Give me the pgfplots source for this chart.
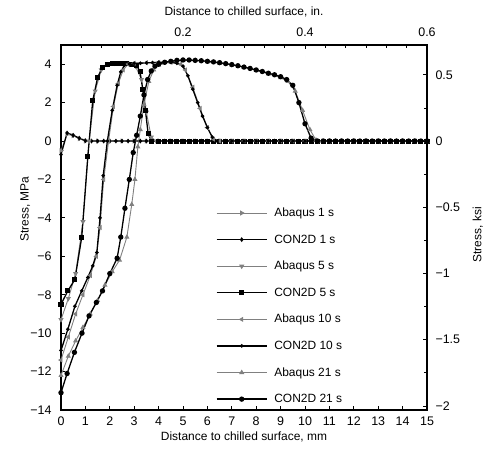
\documentclass[border=0pt]{standalone}
\usepackage{fontspec}
\setmainfont{Liberation Sans}
\usepackage{pgfplots}
\pgfplotsset{compat=1.18}

\definecolor{abq}{gray}{0.5}

\pgfplotsset{
  every axis/.append style={
    scale only axis, width=366bp, height=365bp,
    tick align=inside, major tick length=4bp, minor tick length=3bp,
    tick style={black, line width=0.8pt},
    axis line style={line width=1.2pt},
    tick label style={font=\fontsize{12.5}{14}\selectfont},
    label style={font=\fontsize{12}{14}\selectfont},
    /pgf/number format/assume math mode=true,
  },
  abaqus/.style={color=abq, line width=0.9pt, mark=triangle*, mark size=2.1pt,
    mark options={solid, fill=abq, rotate=#1}},
  con/.style={color=black, line width=1.3pt},
}

\begin{document}
\begin{tikzpicture}
\begin{axis}[
  name=mainax,
  xmin=0, xmax=15, ymin=-14, ymax=5,
  xtick={0,...,15}, xtick pos=bottom,
  ytick={-14,-12,...,4}, ytick pos=left,
  yticklabels={−14,−12,−10,−8,−6,−4,−2,0,2,4},
  xticklabel style={yshift=-3bp},
  yticklabel style={xshift=-6bp},
  xlabel={Distance to chilled surface, mm},
  ylabel={Stress, MPa},
  xlabel style={at={(axis description cs:0.5,-0.075)}, anchor=center},
  ylabel style={at={(axis description cs:-0.098,0.55)}, anchor=center},
  legend cell align=left,
  legend style={draw=none, fill=none, at={(rel axis cs:0.415,0.565)}, anchor=north west,
    font=\fontsize{12}{14}\selectfont, row sep=12.6bp, column sep=5bp},
  legend image code/.code={\draw[mark repeat=2, mark phase=2, #1]
    plot coordinates {(0bp,0bp) (25bp,0bp) (50bp,0bp)};},
]
% 1 s
\addplot[abaqus=-90] coordinates {(0,-0.5) (0.25,0.35) (0.5,0.28) (0.75,0.12) (1,0) (1.5,0) (2,0) (2.5,0) (3,0) (3.5,0) (4,0) (4.5,0) (5,0) (5.5,0) (6,0) (6.5,0) (7,0) (7.5,0) (8,0) (8.5,0) (9,0) (9.5,0) (10,0) (10.5,0) (11,0) (11.5,0) (12,0) (12.5,0) (13,0) (13.5,0) (14,0) (14.5,0) (15,0)};
\addlegendentry{Abaqus 1 s}
\addplot[con, mark=diamond*, mark size=1.4pt] coordinates {(0,-0.7) (0.25,0.42) (0.5,0.3) (0.75,0.15) (1,0.02) (1.25,0) (1.5,0) (1.75,0) (2,0) (2.25,0) (2.5,0) (2.75,0) (3,0) (3.25,0) (3.5,0) (3.75,0) (4,0) (4.25,0) (4.5,0) (4.75,0) (5,0) (5.25,0) (5.5,0) (5.75,0) (6,0) (6.25,0) (6.5,0) (6.75,0) (7,0) (7.25,0) (7.5,0) (7.75,0) (8,0) (8.25,0) (8.5,0) (8.75,0) (9,0) (9.25,0) (9.5,0) (9.75,0) (10,0) (10.25,0) (10.5,0) (10.75,0) (11,0) (11.25,0) (11.5,0) (11.75,0) (12,0) (12.25,0) (12.5,0) (12.75,0) (13,0) (13.25,0) (13.5,0) (13.75,0) (14,0) (14.25,0) (14.5,0) (14.75,0) (15,0)};
\addlegendentry{CON2D 1 s}
% 5 s
\addplot[abaqus=180] coordinates {(0,-9.3) (0.3,-8.2) (0.6,-6.9) (0.9,-4.2) (1.15,0) (1.4,2.6) (1.65,3.7) (1.9,4.0) (2.2,4.05) (2.5,4.05) (2.8,4.0) (3.05,3.9) (3.3,3.2) (3.5,1.5) (3.7,0.2) (3.9,0) (4.5,0) (5,0) (5.5,0) (6,0) (6.5,0) (7,0) (7.5,0) (8,0) (8.5,0) (9,0) (9.5,0) (10,0) (10.5,0) (11,0) (11.5,0) (12,0) (12.5,0) (13,0) (13.5,0) (14,0) (14.5,0) (15,0)};
\addlegendentry{Abaqus 5 s}
\addplot[con, mark=square*, mark size=1.9pt] coordinates {(0,-8.5) (0.28,-7.8) (0.57,-7.2) (0.85,-5.0) (1.1,-0.8) (1.3,2.1) (1.5,3.3) (1.7,3.85) (1.9,4.0) (2.1,4.05) (2.3,4.05) (2.5,4.05) (2.7,4.05) (2.9,4.0) (3.1,3.95) (3.24,3.6) (3.35,2.7) (3.46,1.6) (3.57,0.4) (3.7,0) (4,0) (4.25,0) (4.5,0) (4.75,0) (5,0) (5.25,0) (5.5,0) (5.75,0) (6,0) (6.25,0) (6.5,0) (6.75,0) (7,0) (7.25,0) (7.5,0) (7.75,0) (8,0) (8.25,0) (8.5,0) (8.75,0) (9,0) (9.25,0) (9.5,0) (9.75,0) (10,0) (10.25,0) (10.5,0) (10.75,0) (11,0) (11.25,0) (11.5,0) (11.75,0) (12,0) (12.25,0) (12.5,0) (12.75,0) (13,0) (13.25,0) (13.5,0) (13.75,0) (14,0) (14.25,0) (14.5,0) (14.75,0) (15,0)};
\addlegendentry{CON2D 5 s}
% 10 s
\addplot[abaqus=90] coordinates {(0,-11.4) (0.3,-10.2) (0.6,-9.0) (0.9,-8.0) (1.2,-7.0) (1.45,-6.0) (1.6,-4.5) (1.75,-2.0) (1.95,0) (2.15,1.8) (2.35,3.0) (2.55,3.7) (2.75,4.0) (3,4.05) (3.5,4.08) (4,4.1) (4.5,4.1) (4.9,4.0) (5.1,3.7) (5.4,2.8) (5.7,1.7) (6,0.7) (6.25,0.1) (6.5,0) (7,0) (7.5,0) (8,0) (8.5,0) (9,0) (9.5,0) (10,0) (10.5,0) (11,0) (11.5,0) (12,0) (12.5,0) (13,0) (13.5,0) (14,0) (14.5,0) (15,0)};
\addlegendentry{Abaqus 10 s}
\addplot[con, mark=*, mark size=1.1pt] coordinates {(0,-10.9) (0.28,-9.8) (0.57,-8.6) (0.85,-7.8) (1.1,-7.1) (1.3,-6.5) (1.47,-5.8) (1.6,-4.0) (1.73,-1.8) (1.9,0) (2.1,1.6) (2.3,2.9) (2.45,3.6) (2.6,3.95) (2.8,4.02) (3,4.05) (3.25,4.05) (3.5,4.07) (3.75,4.08) (4,4.1) (4.25,4.1) (4.5,4.1) (4.75,4.05) (5,3.9) (5.2,3.4) (5.4,2.7) (5.6,2.0) (5.8,1.3) (6,0.7) (6.2,0.2) (6.4,0) (6.75,0) (7,0) (7.25,0) (7.5,0) (7.75,0) (8,0) (8.25,0) (8.5,0) (8.75,0) (9,0) (9.25,0) (9.5,0) (9.75,0) (10,0) (10.25,0) (10.5,0) (10.75,0) (11,0) (11.25,0) (11.5,0) (11.75,0) (12,0) (12.25,0) (12.5,0) (12.75,0) (13,0) (13.25,0) (13.5,0) (13.75,0) (14,0) (14.25,0) (14.5,0) (14.75,0) (15,0)};
\addlegendentry{CON2D 10 s}
% 21 s
\addplot[abaqus=0] coordinates {(0,-12.2) (0.3,-11.2) (0.6,-10.4) (0.9,-9.7) (1.2,-9.0) (1.5,-8.3) (1.8,-7.5) (2.1,-6.8) (2.4,-6.2) (2.7,-5.0) (2.9,-3.3) (3.03,-2.0) (3.15,-0.3) (3.25,0.6) (3.4,1.9) (3.6,3.1) (3.8,3.7) (4,3.95) (4.5,4.12) (5,4.2) (5.5,4.2) (6,4.13) (6.5,4.05) (7,3.96) (7.5,3.84) (8,3.68) (8.5,3.5) (9,3.3) (9.3,3.1) (9.6,2.6) (9.9,1.6) (10.2,0.6) (10.45,0.05) (10.7,0) (11,0) (11.5,0) (12,0) (12.5,0) (13,0) (13.5,0) (14,0) (14.5,0) (15,0)};
\addlegendentry{Abaqus 21 s}
\addplot[con, mark=*, mark size=2pt] coordinates {(0,-13.1) (0.25,-12.1) (0.55,-11.0) (0.86,-10.0) (1.15,-9.1) (1.45,-8.4) (1.7,-7.8) (2,-6.9) (2.3,-6.1) (2.45,-5.0) (2.62,-3.5) (2.8,-2.0) (2.96,-0.6) (3.1,0.3) (3.25,1.3) (3.4,2.4) (3.55,3.2) (3.7,3.65) (3.85,3.9) (4,4.0) (4.25,4.1) (4.5,4.15) (4.75,4.2) (5,4.22) (5.25,4.22) (5.5,4.2) (5.75,4.18) (6,4.15) (6.25,4.12) (6.5,4.08) (6.75,4.03) (7,3.98) (7.25,3.92) (7.5,3.85) (7.75,3.78) (8,3.7) (8.25,3.62) (8.5,3.53) (8.75,3.45) (9,3.35) (9.25,3.2) (9.5,2.9) (9.75,2.0) (10,0.9) (10.25,0.15) (10.5,0) (10.75,0) (11,0) (11.25,0) (11.5,0) (11.75,0) (12,0) (12.25,0) (12.5,0) (12.75,0) (13,0) (13.25,0) (13.5,0) (13.75,0) (14,0) (14.25,0) (14.5,0) (14.75,0) (15,0)};
\addlegendentry{CON2D 21 s}
\end{axis}
% inch / ksi scales on the top and right
\begin{axis}[
  xmin=0, xmax=0.6, ymin=-2.0305, ymax=0.7252,
  axis x line*=top, axis y line*=right,
  xtick={0.2,0.4,0.6},
  minor xtick={0.0333,0.0667,0.1,0.1333,0.1667,0.2333,0.2667,0.3,0.3333,0.3667,0.4333,0.4667,0.5,0.5333,0.5667},
  ytick={-2,-1.5,-1,-0.5,0,0.5},
  yticklabels={−2,−1.5,−1,−0.5,0,0.5},
  minor ytick={-1.75,-1.25,-0.75,-0.25,0.25},
  xticklabel style={yshift=5bp, /pgf/number format/fixed, /pgf/number format/precision=1},
  yticklabel style={xshift=5bp},
  xlabel={Distance to chilled surface, in.},
  ylabel={Stress, ksi},
  xlabel style={at={(axis description cs:0.5,1.09)}, anchor=center},
  ylabel style={at={(axis description cs:1.139,0.48)}, anchor=center},
]
\end{axis}
\pgfresetboundingbox
\path ([shift={(-61bp,-40bp)}]mainax.south west) rectangle ([shift={(68bp,45bp)}]mainax.north east);
\end{tikzpicture}
\end{document}
